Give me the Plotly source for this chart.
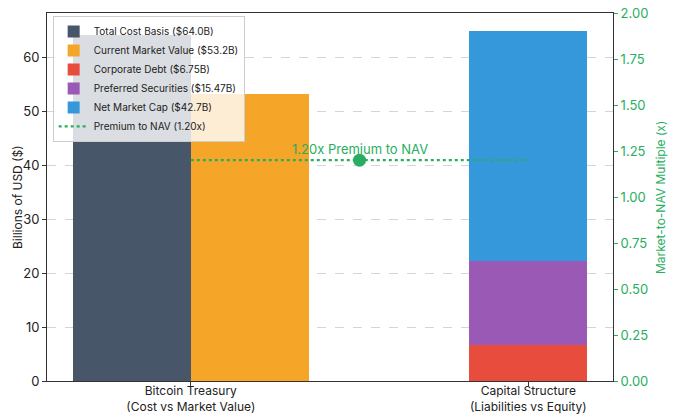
import plotly.graph_objects as go

categories = ["Bitcoin Treasury<br>(Cost vs Market Value)", "Capital Structure<br>(Liabilities vs Equity)"]
cost_basis = 64.0
market_value = 53.2
corporate_debt = 6.75
preferred = 15.47
net_market_cap = 42.7
premium_nav = 1.20

pos = list(range(len(categories)))
bar_w = 0.35
green = "#27ae60"

fig = go.Figure()

# treasury group: two side by side bars
fig.add_trace(go.Bar(x=[pos[0]], y=[cost_basis], width=bar_w, offset=-bar_w,
                     marker=dict(color="#475669", line=dict(width=0)),
                     name=f"Total Cost Basis (${cost_basis:.1f}B)"))
fig.add_trace(go.Bar(x=[pos[0]], y=[market_value], width=bar_w, offset=0,
                     marker=dict(color="#f5a629", line=dict(width=0)),
                     name=f"Current Market Value (${market_value:.1f}B)"))

# capital structure stack
fig.add_trace(go.Bar(x=[pos[1]], y=[corporate_debt], width=bar_w, base=[0],
                     marker=dict(color="#e74c3c", line=dict(width=0)),
                     name=f"Corporate Debt (${corporate_debt}B)"))
fig.add_trace(go.Bar(x=[pos[1]], y=[preferred], width=bar_w, base=[corporate_debt],
                     marker=dict(color="#9b59b6", line=dict(width=0)),
                     name=f"Preferred Securities (${preferred}B)"))
fig.add_trace(go.Bar(x=[pos[1]], y=[net_market_cap], width=bar_w, base=[corporate_debt + preferred],
                     marker=dict(color="#3498db", line=dict(width=0)),
                     name=f"Net Market Cap (${net_market_cap:.1f}B)"))

# premium line on secondary axis
fig.add_trace(go.Scatter(x=pos, y=[premium_nav] * len(pos), yaxis="y2", mode="lines",
                         line=dict(color=green, width=2.2, dash="dot"),
                         name=f"Premium to NAV ({premium_nav:.2f}x)"))
mid = sum(pos) / len(pos)
fig.add_trace(go.Scatter(x=[mid], y=[premium_nav], yaxis="y2", mode="markers",
                         marker=dict(color=green, size=13), showlegend=False))
fig.add_annotation(x=mid, y=premium_nav, yref="y2", text=f"{premium_nav:.2f}x Premium to NAV",
                   showarrow=False, yshift=11, font=dict(color=green, size=13))

# axis titles placed by hand
fig.add_annotation(xref="paper", yref="paper", x=-0.053, y=0.5, xanchor="center", yanchor="middle",
                   text="Billions of USD ($)", textangle=-90, showarrow=False,
                   font=dict(size=12, color="#222"))
fig.add_annotation(xref="paper", yref="paper", x=1.083, y=0.5, xanchor="center", yanchor="middle",
                   text="Market-to-NAV Multiple (x)", textangle=-90, showarrow=False,
                   font=dict(size=12, color=green))

total_stack = corporate_debt + preferred + net_market_cap
ymax = max(cost_basis, total_stack) * 1.05

fig.update_layout(
    width=680, height=416,
    margin=dict(l=47, r=67, t=13, b=35),
    plot_bgcolor="white", paper_bgcolor="white",
    font=dict(family="Inter, Roboto, sans-serif", size=12, color="#222"),
    barmode="overlay", bargap=0,
    xaxis=dict(tickvals=pos, ticktext=categories, range=[-0.426, 1.251],
               showline=True, linecolor="#333", linewidth=1, mirror=True,
               ticks="outside", ticklen=4, tickcolor="#333", showgrid=False,
               zeroline=False, tickfont=dict(size=12), automargin=False,
               ticklabelstandoff=-5),
    yaxis=dict(range=[0, ymax], tickvals=[0, 10, 20, 30, 40, 50, 60],
               showline=True, linecolor="#333", linewidth=1,
               ticks="outside", ticklen=4, tickcolor="#333",
               showgrid=True, gridcolor="#d5d5d5", griddash="dash", gridwidth=1,
               zeroline=False, tickfont=dict(size=13), automargin=False),
    yaxis2=dict(overlaying="y", side="right", range=[0, 2],
                tickvals=[0, 0.25, 0.5, 0.75, 1.0, 1.25, 1.5, 1.75, 2.0], tickformat=".2f",
                showline=True, linecolor="#333", linewidth=1,
                ticks="outside", ticklen=4, tickcolor=green,
                showgrid=False, zeroline=False, tickfont=dict(size=13, color=green),
                automargin=False),
    legend=dict(x=0.01, y=0.992, xanchor="left", yanchor="top",
                bgcolor="rgba(255,255,255,0.8)", bordercolor="#ccc", borderwidth=1,
                font=dict(size=10), tracegroupgap=0, itemwidth=30,
                traceorder="normal"),
)

fig.write_html("out.html", config={"displayModeBar": False},
               post_script="document.body.style.margin='0';")
